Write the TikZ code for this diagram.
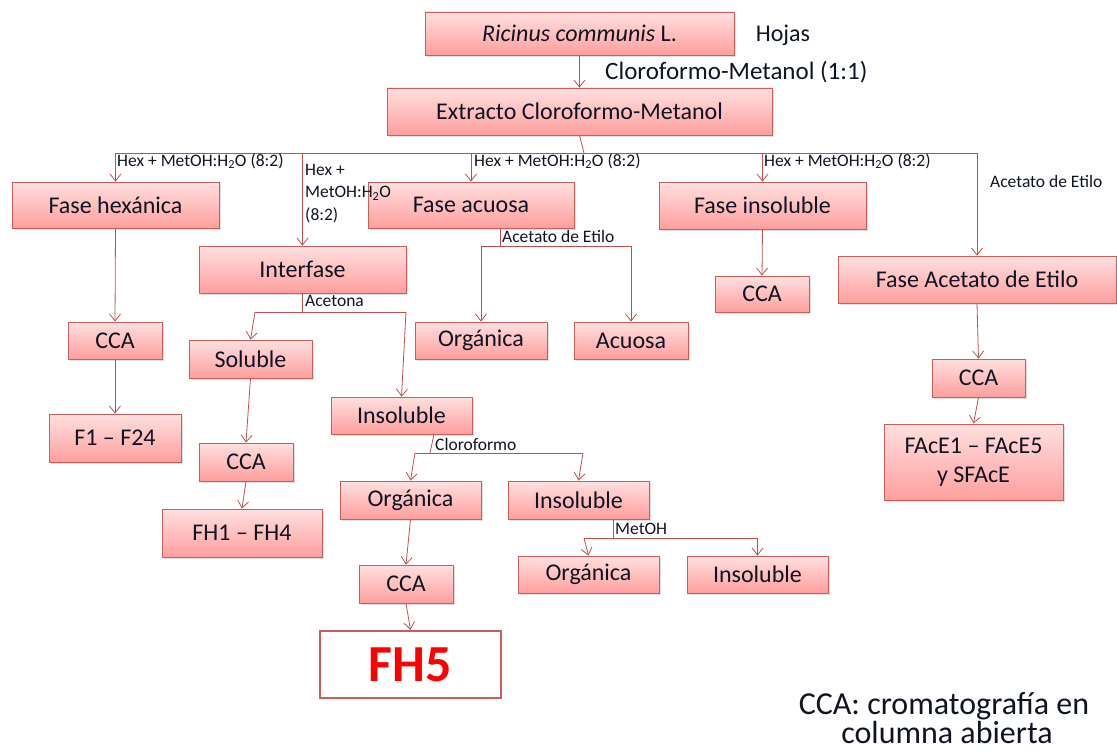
\documentclass[tikz,border=0pt]{standalone}
\usepackage{fontspec}
\setmainfont{Carlito}
\usetikzlibrary{arrows.meta,shadows,calc}
\definecolor{bord}{RGB}{200,95,92}
\definecolor{lnc}{RGB}{192,80,77}
\definecolor{topc}{RGB}{255,224,224}
\definecolor{botc}{RGB}{255,158,158}
\definecolor{txt}{RGB}{15,20,35}
\newcommand\bx[6]{\node[box,minimum width=#4pt,minimum height=#5pt] (#1) at (#2,-#3) {#6};}
\begin{document}
\begin{tikzpicture}[x=1pt,y=1pt,
  box/.style={draw=bord, line width=0.8pt, top color=topc, bottom color=botc, inner sep=0pt, align=center, text=txt,
    font=\fontsize{24}{29}\selectfont,
    drop shadow={shadow xshift=1.5pt,shadow yshift=-1.8pt,opacity=0.25}},
  fin/.style={draw=bord, line width=2.4pt, fill=white, inner sep=0pt, text=red, font=\fontsize{52}{54}\selectfont\bfseries},
  conn/.style={draw=lnc, line width=0.8pt},
  arr/.style={conn, -{Straight Barb[length=7pt,width=11pt,line width=0.8pt]}},
  lbl/.style={font=\fontsize{17.5}{19}\selectfont, inner sep=0pt, anchor=west, text=txt},
  ]
\useasboundingbox (0,0) rectangle (1117,-752);
% boxes
\bx{ric}{579.5}{33.5}{309}{43}{{\itshape Ricinus communis} L.}
\bx{ext}{579.5}{111.5}{385}{47}{Extracto Cloroformo-Metanol}
\bx{hex}{115.5}{205}{207}{46}{Fase hexánica}
\bx{inter}{302.5}{269.5}{207}{47}{Interfase}
\bx{acuosa}{471}{205}{206}{46}{Fase acuosa}
\bx{finsol}{762.5}{205.5}{207}{47}{Fase insoluble}
\bx{facet}{977}{279.5}{278}{47}{Fase Acetato de Etilo}
\bx{ccaH}{115}{340.5}{94}{37}{CCA}
\bx{fone}{115}{438}{132}{48}{F1 – F24}
\bx{sol}{250.5}{359}{123}{38}{Soluble}
\bx{ccaS}{246}{462}{94}{38}{CCA}
\bx{fhone}{242}{533}{160}{48}{FH1 – FH4}
\bx{insol}{401.5}{415.5}{141}{37}{Insoluble}
\bx{orgA}{481}{340.5}{132}{37}{Orgánica}
\bx{acu}{631}{340.5}{114}{37}{Acuosa}
\bx{ccaI}{762}{294}{94}{36}{CCA}
\bx{orgB}{410.5}{500}{141}{38}{Orgánica}
\bx{insolB}{578.5}{500}{141}{38}{Insoluble}
\bx{ccaT}{406}{584}{94}{38}{CCA}
\bx{orgC}{588.5}{574.5}{141}{37}{Orgánica}
\bx{insolC}{757.5}{574.5}{141}{37}{Insoluble}
\bx{ccaE}{978.5}{378}{93}{38}{CCA}
\bx{face}{973.5}{462}{179}{76}{FAcE1 – FAcE5\\y SFAcE}
\node[fin,minimum width=181pt,minimum height=67pt] (fh5) at (410.5,-664.5) {FH5};
% free texts
\node[font=\fontsize{24}{26}\selectfont, text=txt] (hojas) at (783,-35) {Hojas};
\node[font=\fontsize{25}{27}\selectfont, text=txt, anchor=west, inner sep=0pt] (clm) at (605,-72) {Cloroformo-Metanol (1:1)};
\node[font=\fontsize{32}{34}\selectfont, text=txt, anchor=base, inner sep=0pt] (footA) at (944,-714) {CCA: cromatografía en};
\node[font=\fontsize{32}{34}\selectfont, text=txt, anchor=base, inner sep=0pt] (footB) at (947,-743) {columna abierta};
% main bus
\coordinate (bus) at (584,-153);
\draw[conn] (ext.south) -- (bus);
\draw[conn] (hex.north |- bus) -- (facet.north |- bus);
\foreach \n in {hex,inter,acuosa,finsol,facet} \draw[arr] (\n.north |- bus) -- (\n.north);
\node[lbl] (l1) at (117,-161) {Hex + MetOH:H\textsubscript{2}O (8:2)};
\node[lbl] (l2) at (474,-161) {Hex + MetOH:H\textsubscript{2}O (8:2)};
\node[lbl] (l3) at (764,-161) {Hex + MetOH:H\textsubscript{2}O (8:2)};
\node[lbl, anchor=north west, align=left, font=\fontsize{17.5}{22.5}\selectfont] (l4) at (305,-164) {Hex +\\MetOH:H\textsubscript{2}O\\(8:2)};
\node[lbl] (l5) at (990,-181) {Acetato de Etilo};
% simple arrows
\draw[arr] (ric.south) -- (ext.north);
\draw[arr] (hex.south) -- (ccaH.north);
\draw[arr] (ccaH.south) -- (fone.north);
\draw[arr] (sol.south) -- (ccaS.north);
\draw[arr] (ccaS.south) -- (fhone.north);
\draw[arr] (orgB.south) -- (ccaT.north);
\draw[arr] (ccaT.south) -- (fh5.north);
\draw[arr] (finsol.south) -- (ccaI.north);
\draw[arr] (facet.south) -- (ccaE.north);
\draw[arr] (ccaE.south) -- (face.north);
% Acetona split
\coordinate (acb) at (302.5,-312);
\coordinate (acl) at (255,-312);
\coordinate (acr) at (406,-312);
\draw[conn] (inter.south) -- (acb);
\draw[conn] (acl) -- (acr);
\draw[arr] (acl) -- (sol.north);
\draw[arr] (acr) -- (insol.north);
\node[lbl] (l6) at (305,-301) {Acetona};
% Acetato split (fase acuosa)
\coordinate (aqb) at (500,-246);
\draw[conn] (acuosa.south -| aqb) -- (aqb);
\draw[conn] (orgA.north |- aqb) -- (acu.north |- aqb);
\draw[arr] (orgA.north |- aqb) -- (orgA.north);
\draw[arr] (acu.north |- aqb) -- (acu.north);
\node[lbl] (l7) at (502,-236) {Acetato de Etilo};
% Cloroformo split
\coordinate (clt) at (434,-434);
\coordinate (clb) at (430,-453);
\coordinate (cll) at (415,-453);
\coordinate (clr) at (583,-453);
\draw[conn] (insol.south -| clt) -- (clb);
\draw[conn] (cll) -- (clr);
\draw[arr] (cll) -- (orgB.north);
\draw[arr] (clr) -- (insolB.north);
\node[lbl] (l8) at (435,-444) {Cloroformo};
% MetOH split
\coordinate (mb) at (613,-538);
\coordinate (ml) at (584,-538);
\draw[conn] (insolB.south -| mb) -- (mb);
\draw[conn] (ml) -- (insolC.north |- mb);
\draw[arr] (ml) -- (orgC.north);
\draw[arr] (insolC.north |- mb) -- (insolC.north);
\node[lbl] (l9) at (615,-529) {MetOH};
\end{tikzpicture}
\end{document}
